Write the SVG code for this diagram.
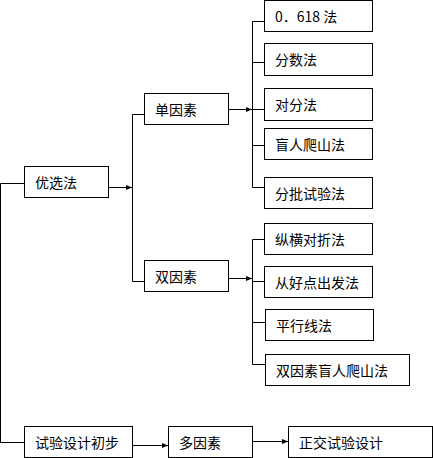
<svg xmlns="http://www.w3.org/2000/svg" width="433" height="458" viewBox="0 0 433 458">
<defs>
<style>
.box rect{fill:#fff;stroke:#000;stroke-width:1}
.box text{font-family:"Noto Sans CJK SC","Liberation Sans",sans-serif;font-size:14px;fill:#000}
#connectors path{fill:none;stroke:#000;stroke-width:1}
</style>
<marker id="arr" markerUnits="userSpaceOnUse" markerWidth="7" markerHeight="6" refX="6" refY="3" orient="auto">
<path d="M0,0.5 L6,3 L0,5.5 z" fill="#000"/>
</marker>
</defs>
<rect width="433" height="458" fill="#fff"/>
<g id="connectors">
<path d="M24.5 183.5 H0.5 V442.5 H24.5"/>
<path d="M108.5 187.5 H132" marker-end="url(#arr)"/>
<path d="M144.5 114.5 H132.5 V281.5 H144.5"/>
<path d="M228.5 109.5 H252" marker-end="url(#arr)"/>
<path d="M264.5 21.5 H252.5 V187.5 H264.5 M252.5 62.5 H264.5 M252.5 109.5 H264.5 M252.5 145.5 H264.5"/>
<path d="M228.5 278.5 H252" marker-end="url(#arr)"/>
<path d="M264.5 239.5 H252.5 V364.5 H265.5 M252.5 281.5 H264.5 M252.5 322.5 H265.5"/>
<path d="M132.5 445.5 H168" marker-end="url(#arr)"/>
<path d="M252.5 441.5 H288" marker-end="url(#arr)"/>
</g>
<g id="n_0618" class="box"><rect x="264.5" y="0.5" width="108" height="31"/><text x="275" y="21.5">0．618 法</text></g>
<g id="n_fenshu" class="box"><rect x="264.5" y="43.5" width="108" height="32"/><text x="275" y="65">分数法</text></g>
<g id="n_duifen" class="box"><rect x="264.5" y="88.5" width="108" height="32"/><text x="275" y="110">对分法</text></g>
<g id="n_mangren" class="box"><rect x="264.5" y="128.5" width="108" height="31"/><text x="275" y="149.5">盲人爬山法</text></g>
<g id="n_fenpi" class="box"><rect x="264.5" y="177.5" width="108" height="31"/><text x="275" y="198.5">分批试验法</text></g>
<g id="n_zongheng" class="box"><rect x="264.5" y="223.5" width="108" height="31"/><text x="275" y="244.5">纵横对折法</text></g>
<g id="n_conghao" class="box"><rect x="264.5" y="266.5" width="108" height="31"/><text x="275" y="287.5">从好点出发法</text></g>
<g id="n_pingxing" class="box"><rect x="265.5" y="309.5" width="108" height="31"/><text x="276" y="330.5">平行线法</text></g>
<g id="n_shuangmang" class="box"><rect x="265.5" y="354.5" width="144" height="31"/><text x="276" y="375.5">双因素盲人爬山法</text></g>
<g id="n_dan" class="box"><rect x="144.5" y="93.5" width="84" height="31"/><text x="155" y="114.5">单因素</text></g>
<g id="n_shuang" class="box"><rect x="144.5" y="260.5" width="84" height="31"/><text x="155" y="281.5">双因素</text></g>
<g id="n_youxuan" class="box"><rect x="24.5" y="166.5" width="84" height="31"/><text x="35" y="187.5">优选法</text></g>
<g id="n_shiyan" class="box"><rect x="24.5" y="426.5" width="108" height="31"/><text x="35" y="447.5">试验设计初步</text></g>
<g id="n_duo" class="box"><rect x="168.5" y="426.5" width="84" height="31"/><text x="179" y="447.5">多因素</text></g>
<g id="n_zhengjiao" class="box"><rect x="288.5" y="426.5" width="144" height="31"/><text x="299" y="447.5">正交试验设计</text></g>
</svg>
